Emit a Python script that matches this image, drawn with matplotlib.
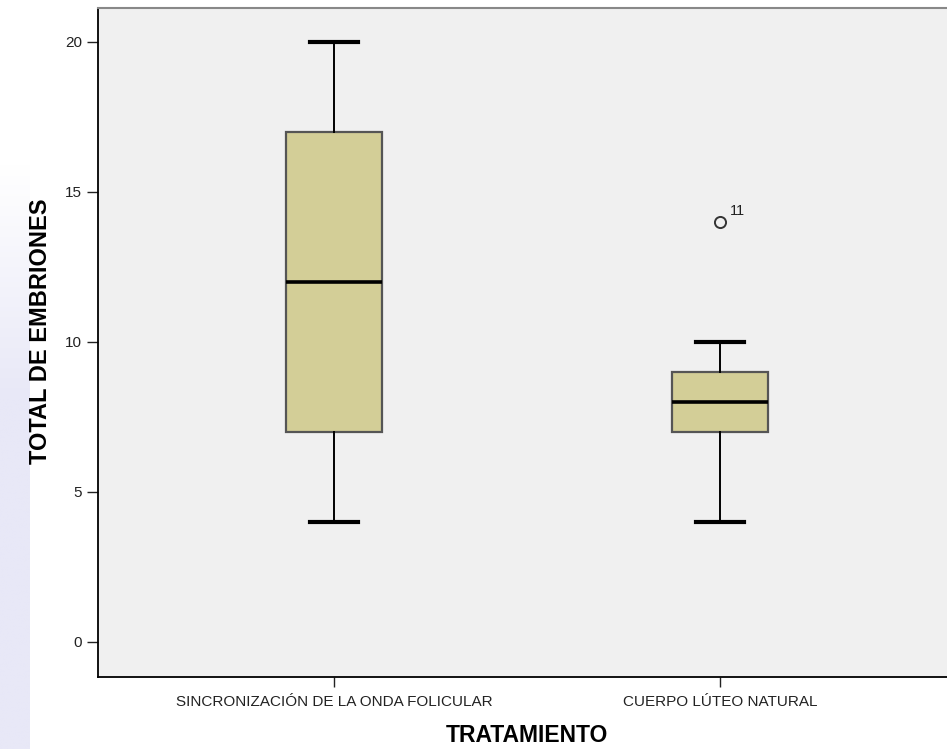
import matplotlib.pyplot as plt
import numpy as np

# treatment groups and summary stats of total embryos
grupos = ['SINCRONIZACIÓN DE LA ONDA FOLICULAR', 'CUERPO LÚTEO NATURAL']
minimos = [4, 4]
q1 = [7, 7]
medianas = [12, 8]
q3 = [17, 9]
maximos = [20, 10]
atipicos = [[], [14]]
etiquetas_atipicos = [[], ['11']]

plt.rcParams['font.family'] = ['Liberation Sans', 'DejaVu Sans']

fig = plt.figure(figsize=(9.47, 7.49), dpi=100)
fig.patch.set_facecolor('white')

# faint lavender strip on the left side of the page
ax_bg = fig.add_axes([0, 0, 0.031, 0.78])
grad = np.linspace(0, 1, 200)[:, None]
grad = np.clip(grad * 2.5, 0, 1)
colores = np.ones((200, 1, 3))
lav = np.array([232, 232, 247]) / 255
colores = colores * (1 - grad[..., None]) + lav * grad[..., None]
ax_bg.imshow(colores, aspect='auto', extent=[0, 1, 0, 1])
ax_bg.axis('off')

ax = fig.add_axes([98 / 947, 1 - 677 / 749, 1 - 98 / 947, (677 - 8) / 749])
ax.set_facecolor('#f0f0f0')

stats = []
for i in range(len(grupos)):
    stats.append(dict(med=medianas[i], q1=q1[i], q3=q3[i],
                      whislo=minimos[i], whishi=maximos[i],
                      fliers=atipicos[i], label=grupos[i]))

ax.bxp(stats, positions=[1, 2], widths=0.25, patch_artist=True,
       boxprops=dict(facecolor='#d3ce97', edgecolor='#555555', linewidth=1.6),
       medianprops=dict(color='black', linewidth=2.6),
       whiskerprops=dict(color='black', linewidth=1.4),
       capprops=dict(color='black', linewidth=3.0),
       capwidths=0.125,
       flierprops=dict(marker='o', markersize=8, markerfacecolor='none',
                       markeredgecolor='#333333', markeredgewidth=1.4))

for i in range(len(grupos)):
    for v, t in zip(atipicos[i], etiquetas_atipicos[i]):
        ax.annotate(t, (i + 1, v), xytext=(7, 5), textcoords='offset points',
                    fontsize=10.5, color='#222222')

ax.set_xlim(0.389, 2.588)
ax.set_ylim(-1.17, 21.13)
ax.set_yticks([0, 5, 10, 15, 20])
ax.set_xticks([1, 2])
ax.set_xticklabels(grupos, fontsize=11)
ax.tick_params(axis='y', labelsize=11, length=8, width=1, direction='out', colors='#222222')
ax.tick_params(axis='x', length=7, width=1, direction='out', colors='#222222', pad=6)

ax.spines['right'].set_visible(False)
ax.spines['top'].set_color('#888888')
ax.spines['top'].set_linewidth(1.5)
ax.spines['left'].set_linewidth(1.3)
ax.spines['bottom'].set_linewidth(1.3)

ax.set_xlabel('TRATAMIENTO', fontsize=16.5, fontweight='bold')
ax.set_ylabel('TOTAL DE EMBRIONES', fontsize=17, fontweight='bold')
ax.xaxis.set_label_coords((527 - 98) / 849, (677 - 724) / 669)
ax.yaxis.set_label_coords((52 - 98) / 849, (677 - 331) / 669)

fig.savefig('out.png', dpi=100)
